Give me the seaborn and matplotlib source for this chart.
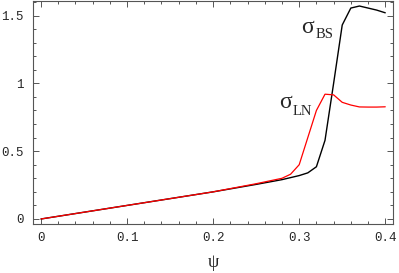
import numpy as np
import matplotlib
matplotlib.use("Agg")
import matplotlib.pyplot as plt
import seaborn as sns
from matplotlib.ticker import MultipleLocator

# values
psi = [0.0, 0.05, 0.10, 0.15, 0.20, 0.25, 0.28, 0.29, 0.30, 0.31, 0.32,
       0.33, 0.34, 0.35, 0.36, 0.37, 0.38, 0.39, 0.40]
sigma_bs = [0.0, 0.05, 0.10, 0.15, 0.20, 0.255, 0.29, 0.305, 0.32, 0.34, 0.385,
            0.58, 1.00, 1.43, 1.555, 1.57, 1.555, 1.54, 1.52]
sigma_ln = [0.0, 0.05, 0.10, 0.15, 0.20, 0.26, 0.30, 0.33, 0.40, 0.60, 0.80,
            0.92, 0.915, 0.86, 0.84, 0.826, 0.825, 0.825, 0.827]

sns.set_style("ticks")
fig = plt.figure(figsize=(3.99, 2.73), dpi=100)
ax = fig.add_axes([33/399, 1-224/273, 360/399, 223/273])

sns.lineplot(x=psi, y=sigma_bs, color="black", lw=1.0, ax=ax)
sns.lineplot(x=psi, y=sigma_ln, color="red", lw=0.9, ax=ax)

ax.set_xlim(-0.0093, 0.409)
ax.set_ylim(-0.037, 1.607)
ax.xaxis.set_major_locator(MultipleLocator(0.1))
ax.xaxis.set_minor_locator(MultipleLocator(0.02))
ax.yaxis.set_major_locator(MultipleLocator(0.5))
ax.yaxis.set_minor_locator(MultipleLocator(0.1))
ax.xaxis.set_major_formatter(plt.FuncFormatter(lambda v, p: "0" if abs(v) < 1e-9 else f"{v:.1f}"))
ax.yaxis.set_major_formatter(plt.FuncFormatter(lambda v, p: "0" if abs(v) < 1e-9 else ("1" if abs(v-1) < 1e-9 else f"{v:.1f}")))
ax.tick_params(which="both", direction="in", top=True, right=True, color="#555555", width=0.7)
ax.tick_params(axis="y", which="major", length=4, labelsize=9, pad=7)
ax.tick_params(axis="x", which="major", length=4, labelsize=9, pad=6)
ax.tick_params(which="minor", length=2)
for lab in ax.get_xticklabels() + ax.get_yticklabels():
    lab.set_family("Liberation Mono")
for s in ax.spines.values():
    s.set_color("#555555")
    s.set_linewidth(0.8)

serif = "Liberation Serif"
ax.text(0.302, 1.37, "σ", fontsize=17, family=serif, va="baseline", ha="left")
ax.text(0.319, 1.336, "BS", fontsize=10.5, family=serif, va="baseline", ha="left")
ax.text(0.2766, 0.818, "σ", fontsize=17, family=serif, va="baseline", ha="left")
ax.text(0.2924, 0.77, "LN", fontsize=10.5, family=serif, va="baseline", ha="left")
ax.set_xlabel("ψ", fontsize=13, family=serif, labelpad=7)

fig.savefig("out.png", dpi=100)
